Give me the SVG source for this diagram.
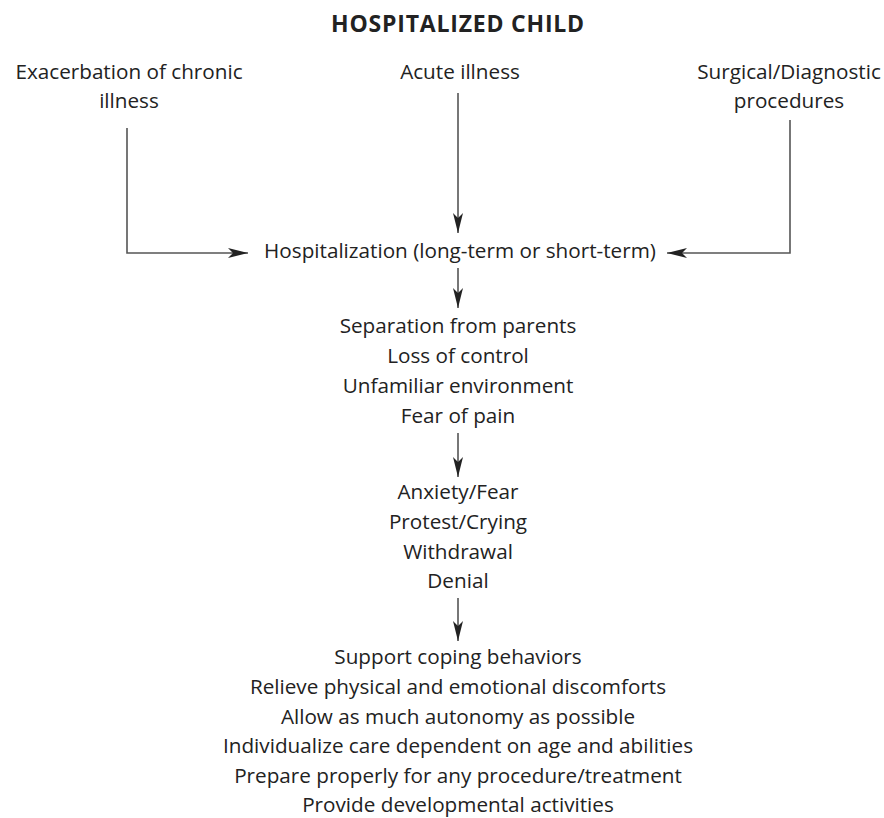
<svg xmlns="http://www.w3.org/2000/svg" width="884" height="818" viewBox="0 0 884 818">
  <style>
    text { font-family: "Open Sans", "Liberation Sans", Arial, sans-serif; font-size: 20.7px; fill: #222; text-anchor: middle; }
    .title { font-weight: bold; font-size: 23px; letter-spacing: 0.8px; }
    .wire { fill: none; stroke: #555; stroke-width: 1.6; }
  </style>
  <defs>
    <marker id="head" viewBox="0 0 20 10" refX="20" refY="5" markerWidth="20" markerHeight="10" markerUnits="userSpaceOnUse" orient="auto">
      <path d="M0,0 L20,5 L0,10 L5,5 Z" fill="#222"/>
    </marker>
  </defs>
  <rect width="884" height="818" fill="#fff"/>

  <g id="title"><text class="title" x="458" y="32">HOSPITALIZED CHILD</text></g>

  <g id="chronic"><text x="129" y="79">Exacerbation of chronic</text><text x="129" y="108">illness</text></g>
  <g id="acute"><text x="460" y="79">Acute illness</text></g>
  <g id="surgical"><text x="789" y="79">Surgical/Diagnostic</text><text x="789" y="108">procedures</text></g>

  <g id="hospitalization"><text x="460" y="258">Hospitalization (long-term or short-term)</text></g>

  <g id="stressors">
    <text x="458" y="333">Separation from parents</text>
    <text x="458" y="363">Loss of control</text>
    <text x="458" y="393">Unfamiliar environment</text>
    <text x="458" y="423">Fear of pain</text>
  </g>

  <g id="reactions">
    <text x="458" y="499">Anxiety/Fear</text>
    <text x="458" y="529">Protest/Crying</text>
    <text x="458" y="559">Withdrawal</text>
    <text x="458" y="588">Denial</text>
  </g>

  <g id="interventions">
    <text x="458" y="664">Support coping behaviors</text>
    <text x="458" y="694">Relieve physical and emotional discomforts</text>
    <text x="458" y="724">Allow as much autonomy as possible</text>
    <text x="458" y="753">Individualize care dependent on age and abilities</text>
    <text x="458" y="783">Prepare properly for any procedure/treatment</text>
    <text x="458" y="812">Provide developmental activities</text>
  </g>

  <g id="connectors">
    <path class="wire" d="M127,128 V253 H248" marker-end="url(#head)"/>
    <path class="wire" d="M458,93 V233" marker-end="url(#head)"/>
    <path class="wire" d="M790,120 V253 H667" marker-end="url(#head)"/>
    <path class="wire" d="M458,268 V308" marker-end="url(#head)"/>
    <path class="wire" d="M458,433 V477" marker-end="url(#head)"/>
    <path class="wire" d="M458,598 V641" marker-end="url(#head)"/>
  </g>
</svg>
